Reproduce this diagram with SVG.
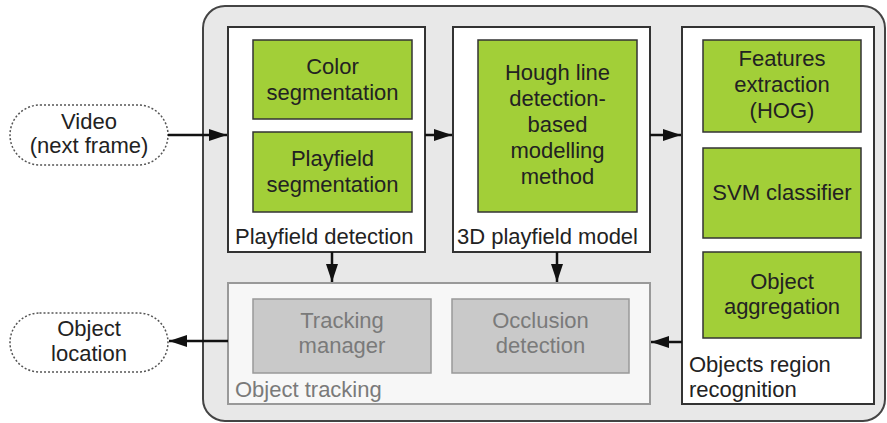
<svg xmlns="http://www.w3.org/2000/svg" width="887" height="423" viewBox="0 0 887 423">
<style>
text{font-family:"Liberation Sans",Arial,sans-serif;font-size:22px;fill:#222;text-anchor:middle}
.lbl{text-anchor:start}
.grey{fill:#7a7a7a}
.panel{fill:#fff;stroke:#333;stroke-width:2}
.green{fill:#a2cf38;stroke:#333;stroke-width:1.5}
.gbox{fill:#c9c9c9;stroke:#999;stroke-width:1.5}
.term{fill:#fff;stroke:#555;stroke-width:1.5;stroke-dasharray:2 2}
.conn{stroke:#111;stroke-width:2.5;fill:none}
</style>
<defs>
<marker id="ah" viewBox="0 0 18 12" refX="18" refY="6" markerWidth="18" markerHeight="12" markerUnits="userSpaceOnUse" orient="auto">
<path d="M0,0 L18,6 L0,12 z" fill="#111"/>
</marker>
</defs>
<rect width="887" height="423" fill="#fff"/>
<g id="system">
<rect x="203" y="6" width="682" height="415" rx="22" fill="#e8e8e8" stroke="#444" stroke-width="2"/>
</g>
<g id="video">
<rect class="term" x="10" y="105" width="158" height="60" rx="30"/>
<text x="89" y="129">Video</text>
<text x="89" y="153">(next frame)</text>
</g>
<g id="object-location">
<rect class="term" x="10" y="313" width="158" height="59" rx="29.5"/>
<text x="89" y="336">Object</text>
<text x="89" y="361">location</text>
</g>
<g id="playfield-detection">
<rect class="panel" x="228" y="27" width="197" height="225"/>
<text class="lbl" x="235" y="244">Playfield detection</text>
</g>
<g id="color-segmentation">
<rect class="green" x="253" y="40" width="159" height="79"/>
<text x="332.5" y="74">Color</text>
<text x="332.5" y="100">segmentation</text>
</g>
<g id="playfield-segmentation">
<rect class="green" x="253" y="132" width="159" height="80"/>
<text x="332.5" y="166">Playfield</text>
<text x="332.5" y="192">segmentation</text>
</g>
<g id="playfield-model">
<rect class="panel" x="453" y="27" width="197" height="225"/>
<text class="lbl" x="457" y="244">3D playfield model</text>
</g>
<g id="hough">
<rect class="green" x="478" y="40" width="159" height="172"/>
<text x="557.5" y="80">Hough line</text>
<text x="557.5" y="106">detection-</text>
<text x="557.5" y="132">based</text>
<text x="557.5" y="158">modelling</text>
<text x="557.5" y="184">method</text>
</g>
<g id="objects-region-recognition">
<rect class="panel" x="682" y="27" width="192" height="377"/>
<text class="lbl" x="689" y="372">Objects region</text>
<text class="lbl" x="689" y="397">recognition</text>
</g>
<g id="features-extraction">
<rect class="green" x="703" y="40" width="158" height="92"/>
<text x="782" y="66">Features</text>
<text x="782" y="92">extraction</text>
<text x="782" y="118">(HOG)</text>
</g>
<g id="svm-classifier">
<rect class="green" x="703" y="148" width="158" height="90"/>
<text x="782" y="200">SVM classifier</text>
</g>
<g id="object-aggregation">
<rect class="green" x="703" y="252" width="158" height="86"/>
<text x="782" y="289">Object</text>
<text x="782" y="314">aggregation</text>
</g>
<g id="object-tracking">
<rect x="228" y="283" width="422" height="121" fill="#f7f7f7" stroke="#999" stroke-width="2"/>
<text class="lbl grey" x="235" y="397">Object tracking</text>
</g>
<g id="tracking-manager">
<rect class="gbox" x="253" y="299" width="178" height="74"/>
<text class="grey" x="342" y="328">Tracking</text>
<text class="grey" x="342" y="353">manager</text>
</g>
<g id="occlusion-detection">
<rect class="gbox" x="452" y="299" width="177" height="74"/>
<text class="grey" x="540.5" y="328">Occlusion</text>
<text class="grey" x="540.5" y="353">detection</text>
</g>
<g id="connectors">
<line class="conn" x1="168" y1="135" x2="227" y2="135" marker-end="url(#ah)"/>
<line class="conn" x1="425" y1="135" x2="452" y2="135" marker-end="url(#ah)"/>
<line class="conn" x1="650" y1="135" x2="681" y2="135" marker-end="url(#ah)"/>
<line class="conn" x1="332" y1="252" x2="332" y2="282" marker-end="url(#ah)"/>
<line class="conn" x1="557" y1="252" x2="557" y2="282" marker-end="url(#ah)"/>
<line class="conn" x1="682" y1="342" x2="651" y2="342" marker-end="url(#ah)"/>
<line class="conn" x1="228" y1="341" x2="169" y2="341" marker-end="url(#ah)"/>
</g>
</svg>
